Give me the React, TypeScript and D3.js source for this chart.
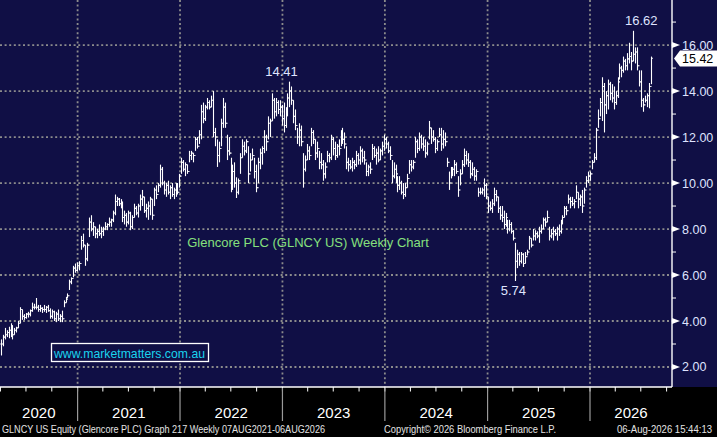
import React, { useEffect, useRef } from 'react';
import * as d3 from 'd3';

// weekly bars as [low, high, close]; open = previous close
const w2020 = [
  [2.5, 3.2, 3.0], [2.9, 3.4, 3.3], [3.2, 3.7, 3.4], [3.3, 3.6, 3.5], [3.25, 3.75, 3.6], [3.3, 3.9, 3.8], [3.2, 3.8, 3.4], [3.4, 3.7, 3.6], [3.5, 3.75, 3.7], [3.7, 4.0, 3.9],
  [3.9, 4.6, 4.5], [4.05, 4.5, 4.2], [4.05, 4.3, 4.15], [4.1, 4.35, 4.3], [4.15, 4.4, 4.3], [4.2, 4.5, 4.45], [4.4, 4.8, 4.6], [4.5, 4.75, 4.6], [4.5, 5.0, 4.6], [4.4, 4.7, 4.5],
  [4.4, 4.7, 4.55], [4.35, 4.6, 4.5], [4.4, 4.7, 4.5], [4.35, 4.65, 4.6], [4.4, 4.7, 4.45], [4.1, 4.55, 4.2], [4.1, 4.5, 4.4], [4.0, 4.45, 4.1], [3.95, 4.4, 4.3], [4.0, 4.5, 4.1],
  [3.95, 4.3, 4.2], [3.95, 4.45, 4.1], [4.6, 4.9, 4.8], [4.8, 5.05, 4.95], [5.0, 5.2, 5.1], [5.35, 5.8, 5.7], [5.6, 5.9, 5.85], [5.9, 6.4, 6.3], [6.1, 6.5, 6.2], [6.15, 6.55, 6.4],
];
const w2021 = [
  [6.2, 6.6, 6.5], [7.1, 7.7, 7.5], [7.2, 7.8, 7.3], [6.4, 7.3, 6.7], [6.6, 7.4, 7.3], [7.65, 8.5, 8.3], [7.9, 8.6, 8.0], [7.7, 8.3, 8.1], [7.6, 8.1, 7.8], [7.6, 8.0, 7.9],
  [7.7, 8.2, 7.8],
  [7.6, 8.1, 7.9], [7.7, 8.1, 8.0], [7.95, 8.3, 8.1], [7.95, 8.25, 8.2], [8.1, 8.5, 8.3], [8.1, 8.45, 8.4], [8.3, 8.8, 8.7], [8.6, 9.5, 9.2], [9.0, 9.4, 9.3], [9.0, 9.35, 9.1],
  [8.9, 9.3, 9.0], [8.3, 9.2, 8.5], [8.2, 8.8, 8.6], [8.1, 8.7, 8.3], [8.2, 8.8, 8.7], [7.95, 8.75, 8.1], [8.0, 8.6, 8.5], [8.5, 9.1, 8.9], [8.6, 9.0, 8.7], [8.5, 9.1, 9.0],
  [8.8, 9.5, 9.3], [9.0, 9.7, 9.4], [8.7, 9.4, 8.8], [8.5, 9.1, 8.9], [8.4, 9.2, 9.0], [8.6, 9.4, 9.3], [8.4, 9.3, 8.6], [9.0, 9.8, 9.7], [9.3, 9.9, 9.5], [9.6, 10.0, 9.9],
  [9.8, 10.8, 10.6], [9.9, 10.7, 10.0], [9.5, 10.1, 9.7], [9.4, 10.0, 9.9], [9.5, 10.1, 9.6], [9.3, 9.9, 9.8], [9.4, 10.0, 9.5], [9.3, 9.8, 9.7], [9.4, 10.0, 9.9], [9.5, 10.0, 9.6],
];
const w2022 = [
  [9.8, 10.4, 10.3], [10.4, 11.1, 10.9], [10.5, 11.0, 10.6], [10.3, 10.9, 10.8], [10.4, 10.8, 10.5], [10.9, 11.4, 11.2], [11.0, 11.4, 11.3], [10.9, 11.3, 11.2], [11.4, 12.0, 11.9], [11.5, 12.0, 11.6],
  [11.7, 12.3, 12.1],
  [11.9, 13.4, 13.1], [12.6, 13.5, 12.8], [12.7, 13.4, 13.3], [13.2, 13.7, 13.5], [13.2, 13.6, 13.3], [13.3, 13.8, 13.6], [12.0, 14.0, 12.2], [11.6, 12.4, 12.0], [10.7, 11.9, 11.2], [10.9, 11.8, 11.5],
  [11.6, 12.8, 12.6], [12.4, 13.7, 13.3], [12.4, 13.5, 12.6], [11.0, 12.1, 11.4], [11.2, 12.0, 11.3], [9.6, 11.1, 10.0], [9.7, 10.8, 10.5], [9.8, 10.9, 10.0], [9.35, 10.25, 9.6], [9.5, 10.2, 10.1],
  [10.4, 11.3, 11.1], [11.1, 11.9, 11.6], [11.2, 11.8, 11.4], [11.3, 11.9, 11.8], [10.0, 11.6, 10.4], [10.5, 11.3, 11.0], [11.0, 11.5, 11.2], [10.2, 11.1, 10.5], [9.6, 10.8, 9.8], [10.0, 11.1, 10.9],
  [10.6, 11.5, 11.3], [10.8, 11.6, 11.5], [11.3, 12.3, 12.0], [11.4, 12.1, 11.8], [11.9, 12.9, 12.6], [12.0, 12.8, 12.7], [12.7, 13.9, 13.6], [12.8, 13.7, 13.1], [12.9, 13.7, 13.5], [13.0, 13.6, 13.2],
];
const w2023 = [
  [12.9, 13.6, 13.3], [12.5, 13.4, 12.8], [12.2, 13.5, 12.5], [12.4, 13.3, 13.1], [12.9, 13.9, 13.7], [13.3, 14.41, 14.0], [13.4, 14.2, 13.6], [12.6, 13.6, 12.9], [12.3, 13.2, 12.5], [11.7, 12.4, 12.0],
  [11.6, 12.6, 12.3],
  [11.6, 12.5, 11.8], [9.8, 11.3, 10.6], [10.5, 11.2, 11.0], [11.0, 11.7, 11.4], [11.0, 11.6, 11.2], [11.6, 12.4, 12.2], [11.7, 12.3, 11.9], [11.0, 11.9, 11.3], [11.1, 11.8, 11.5], [10.6, 11.4, 10.9],
  [10.6, 11.3, 10.8], [10.1, 11.0, 10.4], [10.2, 10.9, 10.7], [10.9, 11.4, 11.2], [10.9, 11.3, 11.1], [11.0, 12.1, 11.9], [11.2, 12.0, 11.5], [11.0, 11.8, 11.2], [11.1, 11.7, 11.6], [11.2, 11.9, 11.5],
  [11.6, 12.3, 12.1], [11.7, 12.4, 11.9], [11.5, 12.2, 11.7], [10.6, 11.6, 10.9], [10.5, 11.1, 10.8], [10.6, 11.0, 10.7], [10.5, 11.1, 10.9], [10.6, 11.0, 10.8], [10.7, 11.4, 11.2], [10.8, 11.3, 11.0],
  [10.8, 11.6, 11.4], [10.9, 11.5, 11.1], [10.8, 11.4, 11.0], [10.3, 10.9, 10.5], [10.3, 10.8, 10.7], [10.4, 10.9, 10.6], [11.0, 11.7, 11.5], [11.1, 11.6, 11.2], [10.8, 11.5, 11.3], [10.9, 11.6, 11.0],
];
const w2024 = [
  [11.0, 11.5, 11.4], [11.2, 11.8, 11.6], [11.4, 12.1, 11.9], [11.5, 12.0, 11.7], [11.3, 11.8, 11.4], [11.0, 11.6, 11.2], [10.0, 11.0, 10.3], [10.2, 10.9, 10.6], [10.0, 10.8, 10.4], [9.6, 10.3, 9.9],
  [9.7, 10.3, 10.0],
  [9.5, 10.1, 9.6], [9.3, 10.0, 9.5], [9.4, 10.0, 9.8], [9.8, 10.4, 10.2], [10.4, 11.0, 10.8], [10.5, 11.0, 10.7], [10.6, 11.0, 10.9], [11.1, 12.0, 11.8], [11.3, 11.9, 11.5], [11.4, 12.2, 12.0],
  [11.5, 12.1, 11.7], [11.4, 12.0, 11.6], [11.1, 11.9, 11.3], [11.2, 11.8, 11.7], [11.9, 12.7, 12.4], [11.7, 12.4, 12.0], [11.8, 12.3, 11.9], [11.3, 12.0, 11.5], [11.4, 11.9, 11.8], [12.0, 12.4, 12.1],
  [11.4, 12.4, 11.7], [11.5, 12.3, 11.9], [11.6, 12.2, 11.8], [10.7, 11.1, 10.9], [9.7, 10.5, 10.0], [10.2, 10.7, 10.5], [10.3, 10.7, 10.6], [10.3, 11.0, 10.8], [10.4, 10.9, 10.5], [9.4, 10.3, 9.7],
  [9.9, 10.6, 10.4], [10.4, 11.0, 10.8], [10.7, 11.5, 11.2], [10.8, 11.4, 11.0], [10.7, 11.3, 10.9], [10.2, 11.0, 10.4], [10.3, 10.9, 10.6], [10.1, 10.7, 10.3], [10.1, 10.6, 10.5], [9.4, 9.8, 9.6],
];
const w2025 = [
  [9.5, 9.8, 9.6], [9.5, 9.8, 9.7], [9.4, 10.2, 9.9], [9.3, 10.0, 9.4], [8.7, 9.4, 9.0], [8.8, 9.2, 8.9], [8.7, 9.3, 9.1], [9.0, 9.8, 9.5], [9.2, 9.7, 9.4], [8.7, 9.4, 8.9],
  [8.4, 9.0, 8.6], [8.3, 9.0, 8.5], [8.0, 8.8, 8.2], [8.1, 8.7, 8.5], [7.8, 8.4, 8.0], [7.9, 8.4, 8.2], [7.8, 8.3, 7.9], [7.5, 7.95, 7.6], [5.74, 7.4, 6.6], [6.3, 7.1, 6.9],
  [6.4, 7.0, 6.6], [6.5, 7.0, 6.9], [6.35, 6.95, 6.5], [6.5, 7.0, 6.8], [6.85, 7.1, 7.0], [7.1, 7.7, 7.6], [7.2, 7.6, 7.3], [7.5, 8.0, 7.7], [7.5, 7.95, 7.8], [7.6, 7.9, 7.7],
  [7.4, 8.1, 7.9], [7.8, 8.2, 8.0], [8.0, 8.5, 8.4], [8.1, 8.5, 8.3], [8.3, 8.8, 8.5], [7.5, 8.1, 7.7], [7.6, 8.0, 7.8], [7.5, 8.1, 7.9], [7.7, 8.0, 7.8], [7.5, 8.1, 8.0],
  [7.7, 8.2, 7.9],
  [7.8, 8.4, 8.3], [8.2, 8.6, 8.5], [8.5, 9.0, 8.9], [8.6, 9.0, 8.8], [9.1, 9.5, 9.3], [8.9, 9.4, 9.2], [9.0, 9.4, 9.1], [8.9, 9.3, 9.2], [9.3, 9.9, 9.6], [8.9, 9.6, 9.3],
];
const w2026 = [
  [9.0, 9.5, 9.4], [8.7, 9.7, 9.0], [9.1, 9.8, 9.7], [9.8, 10.3, 10.1], [10.0, 10.5, 10.3], [10.1, 10.5, 10.4], [10.6, 11.0, 10.9], [10.9, 11.3, 11.1], [11.0, 12.4, 12.3], [12.4, 13.2, 12.8],
  [12.9, 13.7, 13.5], [12.7, 14.6, 14.2], [12.2, 14.35, 13.4], [13.0, 14.0, 13.8], [13.2, 14.5, 14.3], [13.6, 14.4, 13.9], [13.5, 14.3, 13.7], [13.2, 14.2, 13.5], [13.4, 14.0, 13.8], [13.7, 14.6, 14.4],
  [14.5, 15.2, 15.0], [14.6, 15.1, 14.9], [14.8, 15.5, 15.3], [14.9, 15.4, 15.1], [14.9, 15.65, 15.4], [15.2, 16.1, 15.5], [14.9, 15.7, 15.3], [15.3, 16.62, 15.6], [15.2, 15.9, 15.7], [14.9, 15.9, 15.1],
  [14.2, 14.9, 14.4], [13.3, 14.9, 13.6], [13.1, 13.7, 13.4], [13.5, 13.8, 13.6], [13.3, 13.9, 13.8], [13.25, 14.35, 14.2], [14.3, 15.5, 15.42],
];

const priceTicks = [2, 4, 6, 8, 10, 12, 14, 16];
const minorTicks = [3, 5, 7, 9, 11, 13, 15, 17];
const years = [2020, 2021, 2022, 2023, 2024, 2025, 2026];
const lastPrice = 15.42;
const callouts = [
  { value: 14.41, kind: 'high' },
  { value: 16.62, kind: 'high' },
  { value: 5.74, kind: 'low' },
];
const chartTitle = 'Glencore PLC (GLNCY US) Weekly Chart';
const watermark = 'www.marketmatters.com.au';
const footerLeft = 'GLNCY US Equity (Glencore PLC) Graph 217 Weekly 07AUG2021-06AUG2026';
const footerMid = 'Copyright\u00A9 2026 Bloomberg Finance L.P.';
const footerRight = '06-Aug-2026 15:44:13';

const App: React.FC = () => {
  const ref = useRef<SVGSVGElement>(null);

  useEffect(() => {
    if (!ref.current) return;
    const svg = d3.select(ref.current);
    svg.selectAll('*').remove();

    const W = 717;
    const H = 437;
    const plotRight = 672;
    const plotBottom = 387;
    const navy = '#100f45';
    const grid = '#8c8c8c';
    const axisText = '#dfe4ff';

    const raw = [...w2020, ...w2021, ...w2022, ...w2023, ...w2024, ...w2025, ...w2026];
    const lastDate = Date.UTC(2026, 7, 6);
    const week = 7 * 86400000;
    const bars = raw.map((d, i) => ({
      date: new Date(lastDate - week * (raw.length - 1 - i)),
      low: d[0],
      high: d[1],
      close: d[2],
      open: i > 0 ? raw[i - 1][2] : d[2],
    }));

    const x = d3.scaleUtc()
      .domain([new Date(Date.UTC(2021, 0, 1)), new Date(Date.UTC(2026, 0, 1))])
      .range([77.6, 590]);
    const y = d3.scaleLinear().domain([1.13, 17.96]).range([plotBottom, 0]);

    svg.attr('width', W).attr('height', H);
    svg.append('rect').attr('width', W).attr('height', H).attr('fill', '#000');
    svg.append('rect').attr('width', W).attr('height', plotBottom).attr('fill', navy);

    // grid
    const g = svg.append('g');
    g.selectAll('.hgrid')
      .data(priceTicks)
      .enter().append('line')
      .attr('x1', 0).attr('x2', plotRight)
      .attr('y1', d => y(d)).attr('y2', d => y(d))
      .attr('stroke', grid).attr('stroke-width', 1.8).attr('stroke-dasharray', '2,2.6');
    const yearStarts = years.slice(1).map(yr => new Date(Date.UTC(yr, 0, 1)));
    g.selectAll('.vgrid')
      .data(yearStarts)
      .enter().append('line')
      .attr('x1', d => x(d)).attr('x2', d => x(d))
      .attr('y1', 0).attr('y2', plotBottom)
      .attr('stroke', grid).attr('stroke-width', 1.8).attr('stroke-dasharray', '2,2.6');

    // title + watermark
    svg.append('text')
      .attr('x', 308).attr('y', 247)
      .attr('text-anchor', 'middle')
      .attr('font-family', 'Liberation Sans, Arial, sans-serif')
      .attr('font-size', '13px')
      .attr('fill', '#86e07e')
      .text(chartTitle);
    svg.append('rect')
      .attr('x', 51.5).attr('y', 343.5).attr('width', 157).attr('height', 18)
      .attr('fill', navy).attr('stroke', '#fff').attr('stroke-width', 1.3);
    svg.append('text')
      .attr('x', 54).attr('y', 357.5)
      .attr('textLength', 151)
      .attr('lengthAdjust', 'spacingAndGlyphs')
      .attr('font-family', 'Liberation Sans, Arial, sans-serif')
      .attr('font-size', '13px')
      .attr('fill', '#1ad3ee')
      .text(watermark);

    // OHLC bars
    const bg = svg.append('g').attr('stroke', '#fff').attr('stroke-width', 1.1);
    bars.forEach(b => {
      const cx = Math.round(x(b.date)) + 0.5;
      bg.append('line').attr('x1', cx).attr('x2', cx).attr('y1', y(b.high)).attr('y2', y(b.low));
      bg.append('line').attr('x1', cx - 1.2).attr('x2', cx).attr('y1', y(b.open)).attr('y2', y(b.open));
      bg.append('line').attr('x1', cx).attr('x2', cx + 1.2).attr('y1', y(b.close)).attr('y2', y(b.close));
    });

    // callouts
    const calloutDx: Record<string, number> = { '14.41': -8, '16.62': 8, '5.74': -2 };
    callouts.forEach(c => {
      const b = bars.find(d => (c.kind === 'high' ? d.high : d.low) === c.value);
      if (!b) return;
      const tx = x(b.date) + calloutDx[c.value.toFixed(2)];
      const ty = c.kind === 'high' ? y(c.value) - 6 : y(c.value) + 14;
      svg.append('text')
        .attr('x', tx).attr('y', ty)
        .attr('text-anchor', 'middle')
        .attr('font-family', 'Liberation Sans, Arial, sans-serif')
        .attr('font-size', '13px')
        .attr('fill', axisText)
        .text(c.value.toFixed(2));
    });

    // right axis
    const ax = svg.append('g');
    ax.append('line')
      .attr('x1', plotRight).attr('x2', plotRight).attr('y1', 0).attr('y2', plotBottom)
      .attr('stroke', '#fff').attr('stroke-width', 1.4);
    ax.selectAll('.minor')
      .data(minorTicks)
      .enter().append('line')
      .attr('x1', plotRight).attr('x2', plotRight + 4)
      .attr('y1', d => y(d)).attr('y2', d => y(d))
      .attr('stroke', '#fff').attr('stroke-width', 1);
    ax.selectAll('.arrow')
      .data(priceTicks)
      .enter().append('path')
      .attr('d', d => `M${plotRight},${y(d) - 3}L${plotRight + 8},${y(d)}L${plotRight},${y(d) + 3}Z`)
      .attr('fill', '#fff');
    ax.selectAll('.lbl')
      .data(priceTicks)
      .enter().append('text')
      .attr('x', plotRight + 10).attr('y', d => y(d) + 4.5)
      .attr('font-family', 'Liberation Sans, Arial, sans-serif')
      .attr('font-size', '12.5px')
      .attr('fill', axisText)
      .text(d => d.toFixed(2));

    // last price tag
    const ly = y(lastPrice);
    ax.append('path')
      .attr('d', `M${plotRight + 2},${ly}L${plotRight + 8},${ly - 8}L${W},${ly - 8}L${W},${ly + 8}L${plotRight + 8},${ly + 8}Z`)
      .attr('fill', '#fff');
    ax.append('text')
      .attr('x', plotRight + 10).attr('y', ly + 4.5)
      .attr('font-family', 'Liberation Sans, Arial, sans-serif')
      .attr('font-size', '12.5px')
      .attr('fill', '#000')
      .text(lastPrice.toFixed(2));

    // bottom time axis
    const tb = svg.append('g');
    tb.append('line')
      .attr('x1', 0).attr('x2', plotRight).attr('y1', plotBottom).attr('y2', plotBottom)
      .attr('stroke', '#fff').attr('stroke-width', 1.4);
    const quarters = d3.utcMonth.every(3)!.range(x.invert(0), x.invert(plotRight));
    tb.selectAll('.q')
      .data(quarters)
      .enter().append('line')
      .attr('x1', d => x(d)).attr('x2', d => x(d))
      .attr('y1', plotBottom).attr('y2', plotBottom + 4.5)
      .attr('stroke', '#fff').attr('stroke-width', 1);
    tb.selectAll('.ysep')
      .data(yearStarts)
      .enter().append('line')
      .attr('x1', d => x(d)).attr('x2', d => x(d))
      .attr('y1', plotBottom + 1).attr('y2', 421)
      .attr('stroke', '#9a9a9a').attr('stroke-width', 1.2);
    tb.selectAll('.ylbl')
      .data(years)
      .enter().append('text')
      .attr('x', yr => {
        const a = Math.max(0, x(new Date(Date.UTC(yr, 0, 1))));
        const b = Math.min(plotRight, x(new Date(Date.UTC(yr + 1, 0, 1))));
        return (a + b) / 2;
      })
      .attr('y', 418)
      .attr('text-anchor', 'middle')
      .attr('font-family', 'Liberation Sans Narrow, Arial Narrow, sans-serif')
      .attr('font-size', '15px')
      .attr('fill', '#fff')
      .text(yr => String(yr));

    // footer
    const foot = [
      { t: footerLeft, x: 2, w: 323, anchor: 'start' },
      { t: footerMid, x: 384, w: 172, anchor: 'start' },
      { t: footerRight, x: 712, w: 95, anchor: 'end' },
    ];
    svg.selectAll('.foot')
      .data(foot)
      .enter().append('text')
      .attr('x', d => d.x).attr('y', 433)
      .attr('text-anchor', d => d.anchor)
      .attr('textLength', d => d.w)
      .attr('lengthAdjust', 'spacingAndGlyphs')
      .attr('font-family', 'Liberation Sans Narrow, Arial Narrow, sans-serif')
      .attr('font-size', '11px')
      .attr('fill', '#e4e4e4')
      .text(d => d.t);
  }, []);

  return (
    <div style={{ position: 'absolute', left: 0, top: 0, background: '#000' }}>
      <svg ref={ref} style={{ display: 'block' }}></svg>
    </div>
  );
};

export default App;
